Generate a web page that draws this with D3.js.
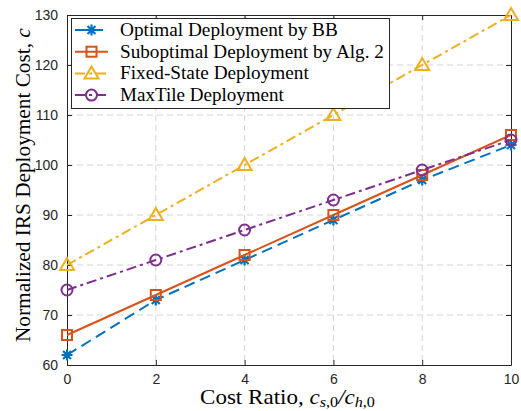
<!DOCTYPE html>
<html>
<head>
<meta charset="utf-8">
<script src="https://d3js.org/d3.v7.min.js"></script>
<style>
  body { margin: 0; background: #fff; }
  svg { display: block; }
  .tick text { font-family: "Liberation Sans", Arial, sans-serif; font-size: 14px; fill: #262626; }
  .serif { font-family: "Liberation Serif", "Times New Roman", serif; fill: #000; }
</style>
</head>
<body>
<div id="chart"></div>
<script>
// ---- data ----
const ratios = [0, 2, 4, 6, 8, 10];
const optimalBB = [62, 73, 81, 89, 97, 104];
const suboptimal = [66, 74, 82, 90, 98, 106];
const fixedState = [80, 90, 100, 110, 120, 130];
const maxTile = [75, 81, 87, 93, 99, 105];
const xTicks = [0, 2, 4, 6, 8, 10];
const yTicks = [60, 70, 80, 90, 100, 110, 120, 130];
const seriesNames = ["Optimal Deployment by BB", "Suboptimal Deployment by Alg. 2",
                     "Fixed-State Deployment", "MaxTile Deployment"];

const width = 521, height = 411;
const plotL = 67, plotR = 511, plotT = 15, plotB = 365;

// legend text widths (the reference uses a wider LaTeX font)
const series = [
  {name: seriesNames[0], values: optimalBB, color: "#0072BD", dash: "11,6", marker: "star", w: 218},
  {name: seriesNames[1], values: suboptimal, color: "#D95319", dash: null, marker: "square", w: 264},
  {name: seriesNames[2], values: fixedState, color: "#EDB120", dash: "10,4,3,4", marker: "triangle", w: 189},
  {name: seriesNames[3], values: maxTile, color: "#7E2F8E", dash: "10,4,3,4", marker: "circle", w: 164}
];

const x = d3.scaleLinear().domain([0, 10]).range([plotL, plotR]);
const y = d3.scaleLinear().domain([60, 130]).range([plotB, plotT]);

const svg = d3.select("#chart").append("svg")
    .attr("width", width)
    .attr("height", height);

// stretch a text (drawn at 0,0) horizontally to a given width, then place it
function fitText(t, px, py, w, rot) {
  const bw = t.node().getComputedTextLength();
  const sx = w / bw;
  t.attr("transform", `translate(${px},${py})` + (rot ? ` rotate(${rot})` : "") + ` scale(${sx},1)`);
}

// grid
svg.append("g").selectAll("line").data(xTicks.slice(1, -1)).enter().append("line")
    .attr("x1", d => x(d)).attr("x2", d => x(d))
    .attr("y1", plotT).attr("y2", plotB)
    .attr("stroke", "#d4d4d4").attr("stroke-dasharray", "6,4");
svg.append("g").selectAll("line").data(yTicks.slice(1, -1)).enter().append("line")
    .attr("y1", d => y(d)).attr("y2", d => y(d))
    .attr("x1", plotL).attr("x2", plotR)
    .attr("stroke", "#d4d4d4").attr("stroke-dasharray", "6,4");

// axes (ticks inward, box on)
function styleAxis(g) {
  g.select(".domain").attr("stroke", "#262626");
  g.selectAll(".tick line").attr("stroke", "#262626");
}
svg.append("g").attr("transform", `translate(0,${plotB})`)
    .call(d3.axisBottom(x).tickValues(xTicks).tickSizeInner(-5).tickSizeOuter(0).tickPadding(9))
    .call(styleAxis);
svg.append("g").attr("transform", `translate(0,${plotT})`)
    .call(d3.axisTop(x).tickValues(xTicks).tickSizeInner(-5).tickSizeOuter(0).tickFormat(""))
    .call(styleAxis);
svg.append("g").attr("transform", `translate(${plotL},0)`)
    .call(d3.axisLeft(y).tickValues(yTicks).tickSizeInner(-5).tickSizeOuter(0).tickPadding(9))
    .call(styleAxis);
svg.append("g").attr("transform", `translate(${plotR},0)`)
    .call(d3.axisRight(y).tickValues(yTicks).tickSizeInner(-5).tickSizeOuter(0).tickFormat(""))
    .call(styleAxis);

// markers
function drawMarker(g, type, cx, cy, color) {
  if (type === "star") {
    const r = 5.5, d = r * 0.72;
    g.append("path")
      .attr("d", `M${cx - r},${cy}L${cx + r},${cy}M${cx},${cy - r}L${cx},${cy + r}` +
                 `M${cx - d},${cy - d}L${cx + d},${cy + d}M${cx - d},${cy + d}L${cx + d},${cy - d}`)
      .attr("stroke", color).attr("stroke-width", 2.2).attr("fill", "none");
  } else if (type === "square") {
    g.append("rect").attr("x", cx - 5).attr("y", cy - 5).attr("width", 10).attr("height", 10)
      .attr("stroke", color).attr("stroke-width", 2).attr("fill", "none");
  } else if (type === "triangle") {
    g.append("path").attr("d", `M${cx},${cy - 7}L${cx + 7},${cy + 5}L${cx - 7},${cy + 5}Z`)
      .attr("stroke", color).attr("stroke-width", 2).attr("fill", "none");
  } else if (type === "circle") {
    g.append("circle").attr("cx", cx).attr("cy", cy).attr("r", 5.5)
      .attr("stroke", color).attr("stroke-width", 2).attr("fill", "none");
  }
}

const line = d3.line().x((d, i) => x(ratios[i])).y(d => y(d));
series.forEach(s => {
  const g = svg.append("g");
  g.append("path").attr("d", line(s.values))
    .attr("fill", "none").attr("stroke", s.color).attr("stroke-width", 2)
    .attr("stroke-dasharray", s.dash);
  s.values.forEach((v, i) => drawMarker(g, s.marker, x(ratios[i]), y(v), s.color));
});

// legend
const lg = svg.append("g");
lg.append("rect").attr("x", 71.5).attr("y", 18.5).attr("width", 318).attr("height", 90)
  .attr("fill", "#fff").attr("stroke", "#262626").attr("stroke-width", 1);
series.forEach((s, i) => {
  const yy = 30 + i * 21.7;
  lg.append("line").attr("x1", 75).attr("x2", 108).attr("y1", yy).attr("y2", yy)
    .attr("stroke", s.color).attr("stroke-width", 2).attr("stroke-dasharray", s.dash);
  drawMarker(lg, s.marker, 91.5, yy, s.color);
  const t = lg.append("text").attr("class", "serif").attr("font-size", 19).text(s.name);
  fitText(t, 120, yy + 6, s.w);
});

// axis labels
const xl = svg.append("text").attr("class", "serif").attr("font-size", 20);
xl.append("tspan").text("Cost Ratio, ");
xl.append("tspan").attr("font-style", "italic").text("c");
xl.append("tspan").attr("font-style", "italic").attr("font-size", 14).attr("dy", 3).text("s");
xl.append("tspan").attr("font-size", 14).text(",0");
xl.append("tspan").attr("dy", -3).attr("font-style", "italic").text("/c");
xl.append("tspan").attr("font-style", "italic").attr("font-size", 14).attr("dy", 3).text("h");
xl.append("tspan").attr("font-size", 14).text(",0");
fitText(xl, 200, 404, 175);

const yl = svg.append("text").attr("class", "serif").attr("font-size", 20);
yl.append("tspan").text("Normalized IRS Deployment Cost, ");
yl.append("tspan").attr("font-style", "italic").text("c");
fitText(yl, 30, 342, 314, -90);
</script>
</body>
</html>
